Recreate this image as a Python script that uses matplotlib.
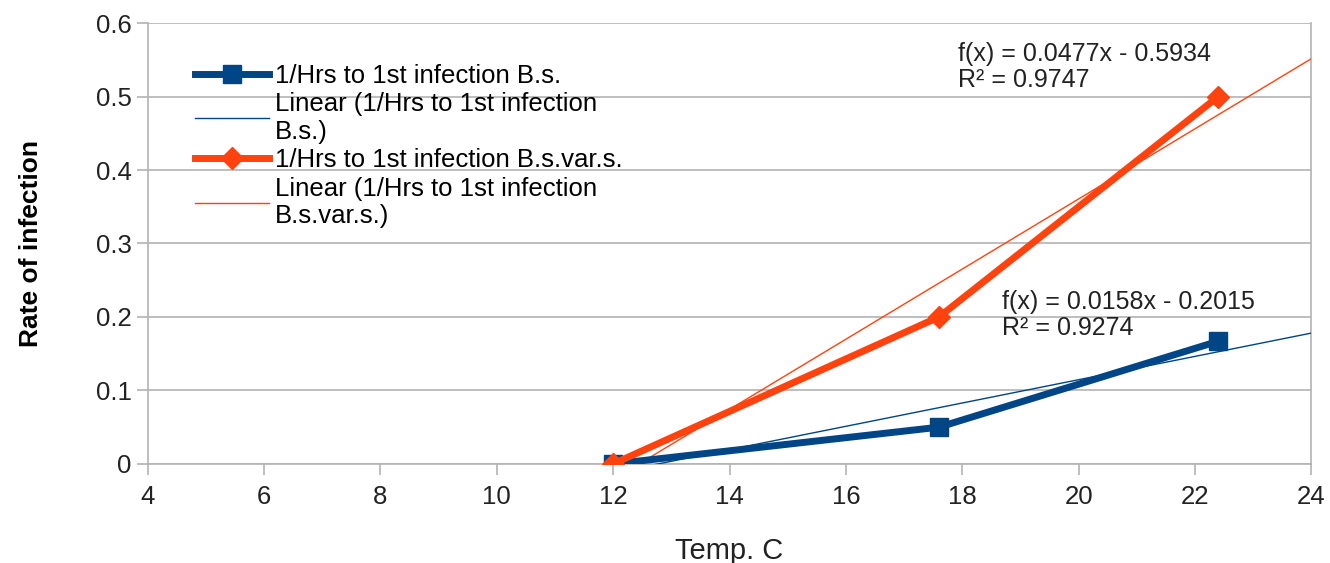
import numpy as np
import matplotlib
matplotlib.use('Agg')
import matplotlib.pyplot as plt

plt.rcParams['font.family'] = ['Liberation Sans', 'DejaVu Sans']

# data
temp = [12, 17.6, 22.4]
rate_bs = [0, 0.05, 0.167]
rate_bsvar = [0, 0.2, 0.5]
trend_x = [12, 24]
blue = '#004586'
orange = '#ff420e'
grey = '#b3b3b3'

fig = plt.figure(figsize=(13.3, 5.63), dpi=100)
ax = fig.add_axes([0.111, 0.176, 0.875, 0.783])

# linear fits
k1, b1 = np.polyfit(temp, rate_bs, 1)
k2, b2 = np.polyfit(temp, rate_bsvar, 1)
tx = np.array(trend_x)

ax.plot(temp, rate_bs, color=blue, lw=5, marker='s', ms=13,
        label='1/Hrs to 1st infection B.s.', zorder=4)
ax.plot(tx, k1 * tx + b1, color=blue, lw=1,
        label='Linear (1/Hrs to 1st infection\nB.s.)', zorder=3)
ax.plot(temp, rate_bsvar, color=orange, lw=5, marker='D', ms=11,
        label='1/Hrs to 1st infection B.s.var.s.', zorder=4)
ax.plot(tx, k2 * tx + b2, color=orange, lw=1,
        label='Linear (1/Hrs to 1st infection\nB.s.var.s.)', zorder=3)

ax.text(17.93, 0.54, 'f(x) = 0.0477x - 0.5934\nR² = 0.9747', fontsize=18,
        color='#222222', linespacing=1.1, va='center')
ax.text(18.69, 0.203, 'f(x) = 0.0158x - 0.2015\nR² = 0.9274', fontsize=18,
        color='#222222', linespacing=1.1, va='center')

ax.set_xlim(4, 24)
ax.set_ylim(0, 0.6)
ax.set_xticks(range(4, 25, 2))
ax.set_yticks([0, 0.1, 0.2, 0.3, 0.4, 0.5, 0.6])
ax.set_yticklabels(['0', '0.1', '0.2', '0.3', '0.4', '0.5', '0.6'])
ax.yaxis.grid(True, color=grey, lw=1.2)
ax.set_axisbelow(True)
for s in ax.spines.values():
    s.set_color(grey)
    s.set_linewidth(1.2)
ax.spines['top'].set_visible(False)
ax.tick_params(colors=grey, labelcolor='#222222', labelsize=18.5, length=8, width=1.2)
ax.tick_params(axis='x', pad=7)

ax.set_xlabel('Temp. C', fontsize=21, labelpad=20, color='#222222')
ax.set_ylabel('Rate of infection', fontsize=19, fontweight='bold', labelpad=38)

leg = ax.legend(loc='upper left', bbox_to_anchor=(0.03, 0.937), frameon=False,
                fontsize=18.5, handlelength=2.85, handletextpad=0.25,
                labelspacing=0.17, borderpad=0)
for t in leg.get_texts():
    t.set_linespacing(1.2)

fig.savefig('out.png', dpi=100)
